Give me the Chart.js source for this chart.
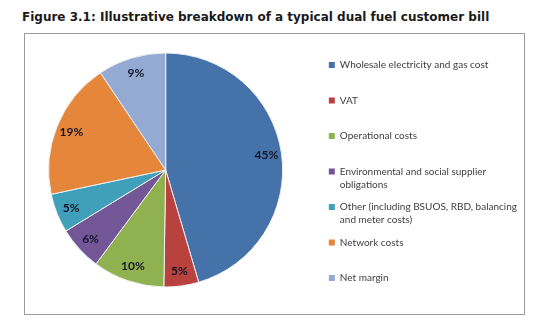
<!DOCTYPE html>
<html>
<head>
<meta charset="utf-8">
<script src="https://cdn.jsdelivr.net/npm/chart.js@4"></script>
<style>
  body { margin: 0; background: #fff; }
  #wrap { position: relative; width: 549px; height: 336px; }
  #title {
    position: absolute; left: 22px; top: 10px;
    font: bold 12px "DejaVu Sans", sans-serif; color: #1a1a1a; white-space: nowrap;
  }
  #frame {
    position: absolute; left: 24px; top: 33px; width: 501px; height: 282px;
    border: 1px solid #9a9a9a; box-sizing: border-box;
  }
  #billChart { position: absolute; left: 0; top: 0; }
</style>
</head>
<body>
<div id="wrap">
  <div id="title">Figure 3.1: Illustrative breakdown of a typical dual fuel customer bill</div>
  <div id="frame"></div>
  <canvas id="billChart" width="549" height="336"></canvas>
</div>
<script>
const categories = [
    'Wholesale electricity and gas cost',
    'VAT',
    'Operational costs',
    ['Environmental and social supplier', 'obligations'],
    ['Other (including BSUOS, RBD, balancing', 'and meter costs)'],
    'Network costs',
    'Net margin'
];
const shares = [45.4, 4.8, 9.9, 6.1, 5.4, 18.9, 9.4];
const sliceColors = ['#4672aa', '#b9413e', '#8fb150', '#735696', '#41a0b9', '#e5863a', '#94aad2'];

// percentage labels drawn on each slice
const sliceLabels = {
    id: 'sliceLabels',
    afterDatasetsDraw(chart) {
        const ctx = chart.ctx;
        const data = chart.data.datasets[0].data;
        const total = data.reduce((a, b) => a + b, 0);
        ctx.save();
        ctx.font = 'bold 12px Lato, sans-serif';
        ctx.fillStyle = '#16162a';
        ctx.textAlign = 'center';
        ctx.textBaseline = 'middle';
        chart.getDatasetMeta(0).data.forEach((arc, i) => {
            const p = arc.getProps(['x', 'y', 'startAngle', 'endAngle', 'outerRadius'], true);
            const mid = (p.startAngle + p.endAngle) / 2;
            const r = p.outerRadius * 0.87;
            const pct = Math.round(data[i] / total * 100) + '%';
            ctx.fillText(pct, p.x + Math.cos(mid) * r, p.y + Math.sin(mid) * r);
        });
        ctx.restore();
    }
};

const ctx = document.getElementById('billChart').getContext('2d');
const billChart = new Chart(ctx, {
    type: 'pie',
    data: {
        labels: categories,
        datasets: [{
            data: shares,
            backgroundColor: sliceColors,
            borderColor: '#eef0f4',
            borderWidth: 1,
            radius: 117
        }]
    },
    options: {
        responsive: false,
        animation: false,
        devicePixelRatio: 1,
        layout: {
            padding: { left: 12, right: 22, top: 31.5, bottom: 27.5 }
        },
        plugins: {
            tooltip: { enabled: false },
            legend: {
                position: 'right',
                align: 'end',
                labels: {
                    boxWidth: 6,
                    boxHeight: 6,
                    padding: 9.5,
                    color: '#404040',
                    font: { family: 'Lato, sans-serif', size: 10, lineHeight: 1.3 },
                    generateLabels(chart) {
                        const items = Chart.overrides.pie.plugins.legend.labels.generateLabels(chart);
                        items.forEach(item => {
                            const lines = [].concat(item.text);
                            if (lines.length < 2) lines.push('');
                            item.text = lines;
                            item.lineWidth = 0;
                        });
                        return items;
                    }
                }
            }
        }
    },
    plugins: [sliceLabels]
});
</script>
</body>
</html>
